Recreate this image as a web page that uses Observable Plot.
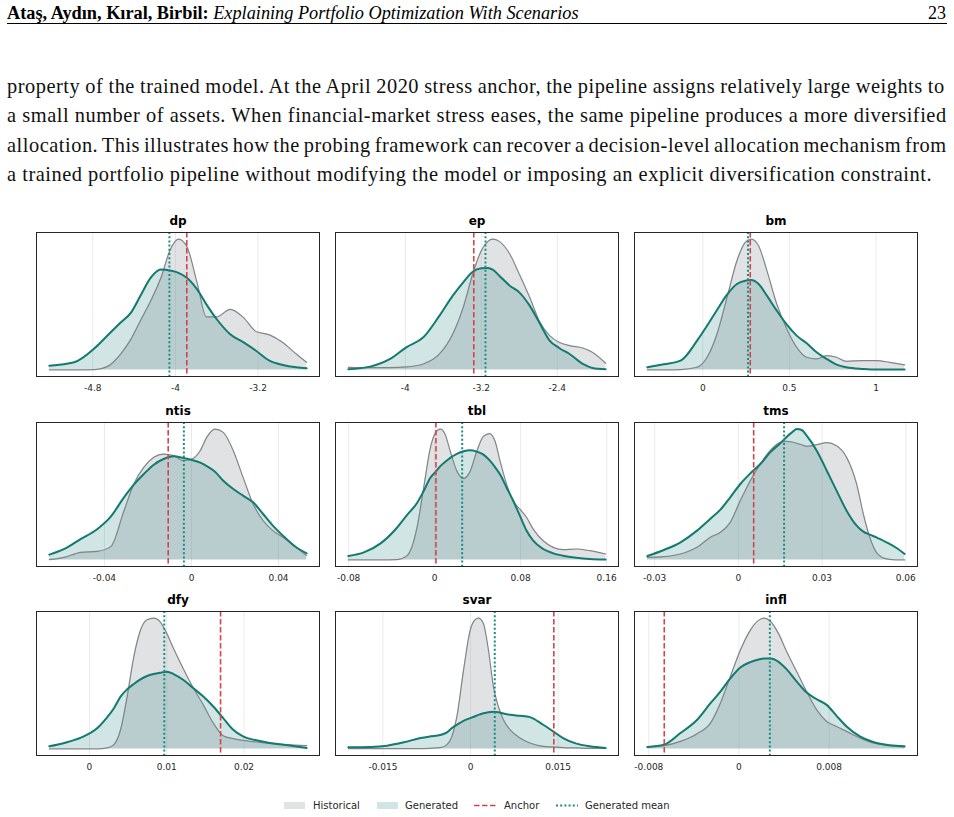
<!DOCTYPE html>
<html><head><meta charset="utf-8">
<script src="https://cdn.jsdelivr.net/npm/d3@7"></script>
<script src="https://cdn.jsdelivr.net/npm/@observablehq/plot@0.6"></script>
<style>
body{margin:0;background:#fff;}
#page{position:relative;width:954px;height:817px;overflow:hidden;background:#fff;}
.abs{position:absolute;white-space:nowrap;color:#000;}
</style></head><body><div id="page"></div>
<script>
// ---------- text ----------
const headerBold = "Ataş, Aydın, Kıral, Birbil:";
const headerItalic = "Explaining Portfolio Optimization With Scenarios";
const pageNumber = "23";
const paragraphLines = [
  "property of the trained model. At the April 2020 stress anchor, the pipeline assigns relatively large weights to",
  "a small number of assets. When financial-market stress eases, the same pipeline produces a more diversified",
  "allocation. This illustrates how the probing framework can recover a decision-level allocation mechanism from",
  "a trained portfolio pipeline without modifying the model or imposing an explicit diversification constraint."
];
const legendLabels = ["Historical", "Generated", "Anchor", "Generated mean"];

// ---------- data (density heights, arbitrary units) ----------
const panelNames = ["dp", "ep", "bm", "ntis", "tbl", "tms", "dfy", "svar", "infl"];
const anchorValues = [-3.89, -3.279, 0.274, -0.0107, 0.0012, 0.0055, 0.01696, 0.01426, -0.00663];
const meanValues = [-4.058, -3.156, 0.261, -0.0035, 0.0256, 0.0164, 0.00968, 0.00415, 0.00274];

const dpX = [-5.22, -4.98, -4.78, -4.66, -4.53, -4.43, -4.34, -4.24, -4.14, -4.05, -3.97, -3.89, -3.79, -3.70, -3.60, -3.47, -3.34, -3.22, -3.09, -2.96, -2.83, -2.73];
const dpHist = [0, 0, 1, 10, 48, 93, 148, 208, 278, 363, 395, 373, 263, 160, 160, 183, 158, 116, 106, 83, 48, 23];
const dpGen = [13, 23, 66, 103, 143, 173, 223, 278, 303, 300, 293, 278, 243, 198, 153, 108, 83, 58, 28, 15, 8, 5];
const dpTicks = [-4.8, -4, -3.2];
const dpTickLabels = ["-4.8", "-4", "-3.2"];

const epX = [-4.60, -4.37, -4.16, -3.99, -3.81, -3.64, -3.50, -3.39, -3.29, -3.20, -3.13, -3.08, -3.01, -2.90, -2.80, -2.69, -2.59, -2.48, -2.38, -2.27, -2.13, -2.03, -1.89];
const epHist = [8, 7, 7, 9, 18, 48, 108, 188, 288, 358, 386, 393, 386, 348, 288, 218, 148, 103, 83, 73, 66, 53, 20];
const epGen = [2, 10, 33, 68, 98, 163, 223, 263, 295, 305, 306, 301, 283, 253, 233, 193, 143, 88, 66, 48, 18, 6, 2];
const epTicks = [-4, -3.2, -2.4];
const epTickLabels = ["-4", "-3.2", "-2.4"];

const bmX = [-0.320, -0.224, -0.128, -0.033, 0.025, 0.082, 0.140, 0.197, 0.245, 0.280, 0.322, 0.370, 0.427, 0.485, 0.542, 0.600, 0.657, 0.715, 0.772, 0.829, 0.925, 1.002, 1.079, 1.165];
const bmHist = [0, 0, 1, 8, 38, 108, 218, 328, 383, 393, 373, 298, 198, 123, 68, 38, 33, 43, 38, 26, 28, 28, 23, 15];
const bmGen = [8, 17, 28, 88, 133, 180, 226, 258, 268, 270, 258, 223, 178, 136, 103, 80, 53, 33, 16, 8, 3, 1, 1, 1];
const bmTicks = [0, 0.5, 1];
const bmTickLabels = ["0", "0.5", "1"];

const ntisX = [-0.0653, -0.0584, -0.0508, -0.0432, -0.0371, -0.0310, -0.0265, -0.0219, -0.0173, -0.0128, -0.0082, -0.0037, 0.0002, 0.0040, 0.0070, 0.0108, 0.0146, 0.0192, 0.0237, 0.0283, 0.0329, 0.0374, 0.0420, 0.0481, 0.0529];
const ntisHist = [1, 8, 23, 26, 40, 148, 228, 278, 308, 318, 313, 298, 303, 328, 368, 393, 383, 328, 248, 168, 118, 88, 68, 38, 13];
const ntisGen = [16, 33, 63, 93, 130, 188, 226, 258, 286, 303, 311, 306, 300, 292, 282, 265, 238, 213, 193, 173, 138, 103, 73, 38, 20];
const ntisTicks = [-0.04, 0, 0.04];
const ntisTickLabels = ["-0.04", "0", "0.04"];

const tblX = [-0.0803, -0.0658, -0.0503, -0.0349, -0.0256, -0.0164, -0.0102, -0.0040, 0.0006, 0.0053, 0.0099, 0.0145, 0.0207, 0.0269, 0.0331, 0.0392, 0.0454, 0.0510, 0.0562, 0.0609, 0.0670, 0.0732, 0.0794, 0.0856, 0.0917, 0.1010, 0.1103, 0.1195, 0.1319, 0.1442, 0.1591];
const tblHist = [0, 0, 0, 1, 13, 98, 218, 338, 383, 395, 378, 328, 268, 246, 268, 328, 373, 381, 358, 298, 228, 178, 153, 128, 93, 58, 38, 31, 33, 28, 18];
const tblGen = [12, 23, 50, 98, 136, 172, 208, 248, 265, 283, 296, 308, 320, 328, 331, 327, 318, 301, 280, 258, 218, 178, 133, 88, 58, 33, 20, 13, 7, 3, 1];
const tblTicks = [-0.08, 0, 0.08, 0.16];
const tblTickLabels = ["-0.08", "0", "0.08", "0.16"];

const tmsX = [-0.0326, -0.0267, -0.0207, -0.0148, -0.0100, -0.0064, -0.0029, 0.0007, 0.0043, 0.0079, 0.0114, 0.0150, 0.0174, 0.0192, 0.0210, 0.0227, 0.0245, 0.0281, 0.0317, 0.0352, 0.0388, 0.0424, 0.0448, 0.0471, 0.0495, 0.0531, 0.0567, 0.0596];
const tmsHist = [8, 10, 18, 38, 68, 83, 113, 178, 238, 288, 328, 353, 356, 354, 350, 346, 341, 346, 352, 343, 308, 228, 138, 68, 23, 3, 0, 0];
const tmsGen = [12, 30, 53, 88, 124, 151, 188, 228, 260, 288, 323, 350, 370, 383, 393, 390, 373, 328, 268, 208, 148, 103, 85, 76, 68, 53, 36, 18];
const tmsTicks = [-0.03, 0, 0.03, 0.06];
const tmsTickLabels = ["-0.03", "0", "0.03", "0.06"];

const dfyX = [-0.00518, -0.00325, -0.00111, 0.00103, 0.00231, 0.00317, 0.00403, 0.00488, 0.00574, 0.00660, 0.00745, 0.00831, 0.00917, 0.01002, 0.01088, 0.01216, 0.01345, 0.01473, 0.01602, 0.01730, 0.01859, 0.01987, 0.02158, 0.02330, 0.02544, 0.02809];
const dfyHist = [0, 0, 0, 0, 3, 13, 58, 158, 278, 358, 390, 395, 383, 348, 303, 241, 183, 133, 78, 40, 31, 26, 21, 17, 13, 10];
const dfyGen = [8, 18, 34, 63, 96, 123, 158, 180, 196, 210, 220, 226, 230, 233, 226, 208, 183, 158, 128, 93, 58, 38, 26, 18, 12, 3];
const dfyTicks = [0, 0.01, 0.02];
const dfyTickLabels = ["0", "0.01", "0.02"];

const svarX = [-0.02091, -0.01710, -0.01426, -0.01142, -0.00858, -0.00688, -0.00517, -0.00403, -0.00318, -0.00233, -0.00119, -0.00006, 0.00068, 0.00136, 0.00222, 0.00307, 0.00392, 0.00477, 0.00563, 0.00676, 0.00847, 0.01017, 0.01244, 0.01415, 0.01585, 0.01813, 0.02040, 0.02313];
const svarHist = [1, 1, 1, 1, 1, 2, 4, 13, 38, 98, 238, 358, 388, 395, 378, 298, 188, 128, 88, 58, 33, 18, 8, 6, 4, 3, 2, 2];
const svarGen = [5, 6, 10, 20, 33, 38, 42, 50, 63, 73, 85, 93, 98, 103, 108, 111, 112, 111, 107, 103, 100, 96, 73, 53, 33, 16, 8, 3];
const svarTicks = [-0.015, 0, 0.015];
const svarTickLabels = ["-0.015", "0", "0.015"];

const inflX = [-0.00813, -0.00666, -0.00519, -0.00371, -0.00253, -0.00165, -0.00077, 0.00012, 0.00100, 0.00174, 0.00224, 0.00277, 0.00351, 0.00424, 0.00513, 0.00601, 0.00690, 0.00778, 0.00866, 0.00955, 0.01073, 0.01191, 0.01338, 0.01470];
const inflHist = [6, 10, 23, 46, 78, 138, 218, 298, 358, 388, 395, 386, 348, 293, 233, 173, 118, 83, 68, 53, 33, 18, 10, 6];
const inflGen = [6, 13, 48, 88, 138, 173, 213, 246, 262, 270, 273, 273, 263, 240, 203, 170, 150, 133, 100, 68, 38, 21, 11, 8];
const inflTicks = [-0.008, 0, 0.008];
const inflTickLabels = ["-0.008", "0", "0.008"];

const panelX = [dpX, epX, bmX, ntisX, tblX, tmsX, dfyX, svarX, inflX];
const panelHist = [dpHist, epHist, bmHist, ntisHist, tblHist, tmsHist, dfyHist, svarHist, inflHist];
const panelGen = [dpGen, epGen, bmGen, ntisGen, tblGen, tmsGen, dfyGen, svarGen, inflGen];
const panelTicks = [dpTicks, epTicks, bmTicks, ntisTicks, tblTicks, tmsTicks, dfyTicks, svarTicks, inflTicks];
const panelTickLabels = [dpTickLabels, epTickLabels, bmTickLabels, ntisTickLabels, tblTickLabels, tmsTickLabels, dfyTickLabels, svarTickLabels, inflTickLabels];

// ---------- styling ----------
const C = {
  histFill: "#9aa0a6", histLine: "#7f858b",
  genFill: "#1b7f79", genLine: "#137a70",
  anchor: "#d1454d", mean: "#1a8c85",
  grid: "#ebebeb", frame: "#262626"
};
const page = document.getElementById("page");
const serif = "'Liberation Serif', 'Times New Roman', serif";
const sans = "'DejaVu Sans', sans-serif";
const ctx = document.createElement("canvas").getContext("2d");
function measure(t, font) { ctx.font = font; return ctx.measureText(t).width; }
function addDiv(html, x, baseline, size, family, extra) {
  const d = document.createElement("div");
  d.className = "abs";
  d.style.left = x + "px";
  d.style.top = (baseline - 0.8375 * size) + "px";
  d.style.fontSize = size + "px";
  d.style.lineHeight = size + "px";
  d.style.fontFamily = family;
  Object.assign(d.style, extra || {});
  d.innerHTML = html;
  page.appendChild(d);
  return d;
}

// header
const hw = measure(headerBold, `bold 100px ${serif}`) + measure(" ", `100px ${serif}`) + measure(headerItalic, `italic 100px ${serif}`);
const hSize = 573 / hw * 100;
addDiv(`<b>${headerBold}</b> <i>${headerItalic}</i>`, 7, 19, hSize, serif);
const pn = addDiv(pageNumber, 0, 19.5, 18, serif);
pn.style.left = "auto"; pn.style.right = "8px";
const rule = document.createElement("div");
Object.assign(rule.style, {position: "absolute", left: "7px", top: "22.5px", width: "940px", height: "1px", background: "#000"});
page.appendChild(rule);

// paragraph (slightly smaller face, letter-spaced to the reference line widths)
const fitSize = 925 / measure(paragraphLines[3], `100px ${serif}`) * 100;
const pSize = fitSize * 0.94;
const w4 = measure(paragraphLines[3], `${pSize}px ${serif}`);
const letterSp = (925 - w4) / paragraphLines[3].length;
const baselines = [93, 122.5, 152, 181.5];
paragraphLines.forEach((line, i) => {
  const d = addDiv(line, 7, baselines[i], pSize, serif, {letterSpacing: letterSp + "px", color: "#111"});
  if (i < 3) {
    const w = measure(line, `${pSize}px ${serif}`) + letterSp * line.length;
    const spaces = line.split(" ").length - 1;
    d.style.wordSpacing = ((940 - w) / spaces) + "px";
  }
});

// ---------- panels ----------
const colLeft = [36, 335, 634];
const rowTop = [232, 422, 611];
const fw = 283, fh = 144;
const ml = 20, mr = 20, mt = 26, mb = 24;

panelNames.forEach((name, i) => {
  const xs = panelX[i];
  const hist = xs.map((x, k) => ({x, y: panelHist[i][k]}));
  const gen = xs.map((x, k) => ({x, y: panelGen[i][k]}));
  const [x0, x1] = d3.extent(xs);
  const pad = 0.05 * (x1 - x0);
  const ymax = d3.max([...panelHist[i], ...panelGen[i]]);
  const ticks = panelTicks[i], labs = panelTickLabels[i];
  const curve = "monotone-x";
  const svg = Plot.plot({
    width: fw + ml + mr, height: fh + mt + mb,
    marginLeft: ml, marginRight: mr, marginTop: mt, marginBottom: mb,
    style: {fontFamily: sans, fontSize: "9px", color: "#262626", background: "transparent", overflow: "visible"},
    x: {domain: [x0 - pad, x1 + pad], ticks: ticks, tickFormat: d => labs[ticks.indexOf(d)], tickSize: 0, tickPadding: 8, label: null},
    y: {domain: [-0.05 * ymax, 1.05 * ymax], axis: null},
    marks: [
      Plot.ruleX(ticks, {stroke: C.grid, strokeWidth: 1}),
      Plot.areaY(hist, {x: "x", y: "y", fill: C.histFill, fillOpacity: 0.3, curve}),
      Plot.areaY(gen, {x: "x", y: "y", fill: C.genFill, fillOpacity: 0.2, curve}),
      Plot.lineY(hist, {x: "x", y: "y", stroke: C.histLine, strokeWidth: 1.2, curve}),
      Plot.lineY(gen, {x: "x", y: "y", stroke: C.genLine, strokeWidth: 2, curve}),
      Plot.ruleX([anchorValues[i]], {stroke: C.anchor, strokeWidth: 1.6, strokeDasharray: "5.5,2.5"}),
      Plot.ruleX([meanValues[i]], {stroke: C.mean, strokeWidth: 2, strokeDasharray: "2,2.2"}),
      Plot.frame({stroke: C.frame, strokeWidth: 1}),
      Plot.text([name], {text: d => d, frameAnchor: "top", dy: -8, lineAnchor: "bottom", fontSize: 12, fontWeight: "bold", fill: "#000"})
    ]
  });
  svg.style.position = "absolute";
  svg.style.left = (colLeft[i % 3] - ml) + "px";
  svg.style.top = (rowTop[Math.floor(i / 3)] - mt) + "px";
  page.appendChild(svg);
});

// ---------- legend ----------
const leg = d3.select(page).append("svg")
  .attr("width", 954).attr("height", 24)
  .style("position", "absolute").style("left", "0px").style("top", "794px")
  .style("font-family", sans).style("font-size", "10px");
const legItems = [
  {kind: "patch", color: C.histFill, op: 0.3, x: 284, tx: 313},
  {kind: "patch", color: C.genFill, op: 0.2, x: 377, tx: 405},
  {kind: "line", color: C.anchor, dash: "5.5,2.5", w: 1.6, x: 474, tx: 504},
  {kind: "line", color: C.mean, dash: "2,2.2", w: 2, x: 556, tx: 585}
];
legItems.forEach((it, k) => {
  if (it.kind === "patch") {
    leg.append("rect").attr("x", it.x).attr("y", 8).attr("width", 21).attr("height", 7)
      .attr("fill", it.color).attr("fill-opacity", it.op);
  } else {
    leg.append("line").attr("x1", it.x).attr("x2", it.x + 22).attr("y1", 11.5).attr("y2", 11.5)
      .attr("stroke", it.color).attr("stroke-width", it.w).attr("stroke-dasharray", it.dash);
  }
  leg.append("text").attr("x", it.tx).attr("y", 15).attr("fill", "#262626").text(legendLabels[k]);
});
</script>
</body></html>
